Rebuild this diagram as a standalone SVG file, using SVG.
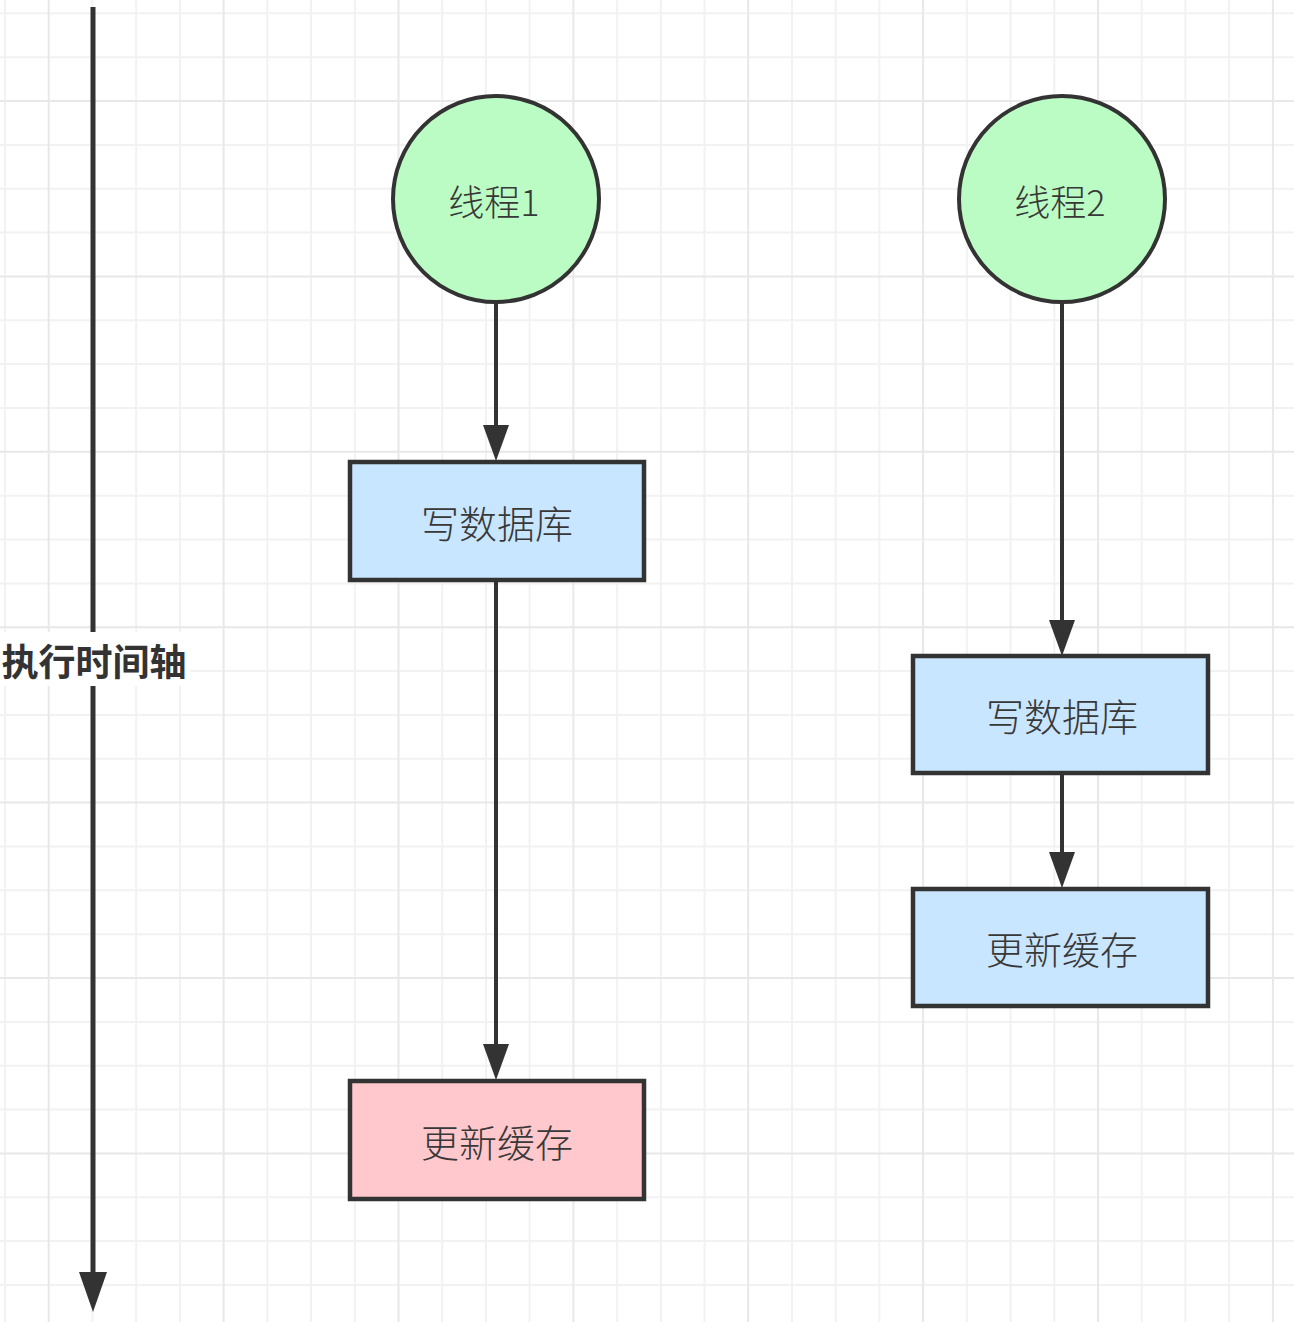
<svg xmlns="http://www.w3.org/2000/svg" width="1294" height="1322" viewBox="0 0 1294 1322">
  <style>
    .minor { stroke: #f2f2f2; stroke-width: 2; fill: none; }
    .major { stroke: #e8e8e8; stroke-width: 2; fill: none; }
    .circle { fill: #bbfcc4; stroke: #333333; stroke-width: 4; }
    .box { stroke: #333333; stroke-width: 4.5; }
    .blue { fill: #c8e6ff; }
    .pink { fill: #ffc8cc; }
    .lbl { font-family: "Noto Sans CJK SC", "Noto Sans", sans-serif; fill: #383838; text-anchor: middle; dominant-baseline: central; font-weight: 300; }
    .bold { font-weight: 700; fill: #333333; }
    .edge { stroke: #333333; stroke-width: 4; fill: none; marker-end: url(#arrow); }
  </style>
  <defs>
    <marker id="arrow" markerUnits="userSpaceOnUse" markerWidth="36" markerHeight="26" refX="0" refY="13" orient="auto" viewBox="0 0 36 26">
      <path d="M0,0 L36,13 L0,26 z" fill="#333333"/>
    </marker>
    <marker id="axisArrow" markerUnits="userSpaceOnUse" markerWidth="40" markerHeight="28" refX="0" refY="14" orient="auto" viewBox="0 0 40 28">
      <path d="M0,0 L40,14 L0,28 z" fill="#333333"/>
    </marker>
  </defs>
  <rect width="1294" height="1322" fill="#ffffff"/>
  <g id="grid">
    <path class="minor" d="M5,0V1322 M92.4,0V1322 M136.2,0V1322 M179.9,0V1322 M267.3,0V1322 M311,0V1322 M354.8,0V1322 M442.2,0V1322 M485.9,0V1322 M529.6,0V1322 M617.1,0V1322 M660.8,0V1322 M704.5,0V1322 M792,0V1322 M835.7,0V1322 M879.4,0V1322 M966.8,0V1322 M1010.6,0V1322 M1054.3,0V1322 M1141.7,0V1322 M1185.4,0V1322 M1229.2,0V1322
      M0,13.3H1294 M0,57.2H1294 M0,144.9H1294 M0,188.7H1294 M0,232.6H1294 M0,320.3H1294 M0,364.1H1294 M0,408H1294 M0,495.7H1294 M0,539.5H1294 M0,583.4H1294 M0,671.1H1294 M0,714.9H1294 M0,758.8H1294 M0,846.5H1294 M0,890.3H1294 M0,934.2H1294 M0,1021.9H1294 M0,1065.7H1294 M0,1109.6H1294 M0,1197.3H1294 M0,1241.1H1294 M0,1285H1294"/>
    <path class="major" d="M48.7,0V1322 M223.6,0V1322 M398.5,0V1322 M573.4,0V1322 M748.2,0V1322 M923.1,0V1322 M1098,0V1322 M1272.9,0V1322
      M0,101H1294 M0,276.4H1294 M0,451.8H1294 M0,627.2H1294 M0,802.6H1294 M0,978H1294 M0,1153.4H1294"/>
  </g>
  <g id="timeline">
    <line x1="93" y1="7" x2="93" y2="1272" stroke="#333333" stroke-width="5" marker-end="url(#axisArrow)"/>
    <rect x="0" y="632" width="190" height="54" fill="#ffffff"/>
    <text class="lbl bold" x="94" y="660" font-size="37">执行时间轴</text>
  </g>
  <g id="connectors">
    <path class="edge" d="M496,303 V425"/>
    <path class="edge" d="M496,580 V1044"/>
    <path class="edge" d="M1062,303 V620"/>
    <path class="edge" d="M1062,773 V852"/>
  </g>
  <g id="thread1">
    <circle class="circle" cx="496" cy="199" r="103"/>
    <text class="lbl" x="494" y="200" font-size="36">线程1</text>
  </g>
  <g id="thread2">
    <circle class="circle" cx="1062" cy="199" r="103"/>
    <text class="lbl" x="1060" y="200" font-size="36">线程2</text>
  </g>
  <g id="t1-write-db">
    <rect class="box blue" x="350" y="462" width="294" height="118"/>
    <text class="lbl" x="497" y="521" font-size="38">写数据库</text>
  </g>
  <g id="t1-update-cache">
    <rect class="box pink" x="350" y="1081" width="294" height="118"/>
    <text class="lbl" x="497" y="1140" font-size="38">更新缓存</text>
  </g>
  <g id="t2-write-db">
    <rect class="box blue" x="913" y="656" width="295" height="117"/>
    <text class="lbl" x="1062" y="714" font-size="38">写数据库</text>
  </g>
  <g id="t2-update-cache">
    <rect class="box blue" x="913" y="889" width="295" height="117"/>
    <text class="lbl" x="1062" y="947" font-size="38">更新缓存</text>
  </g>
</svg>
